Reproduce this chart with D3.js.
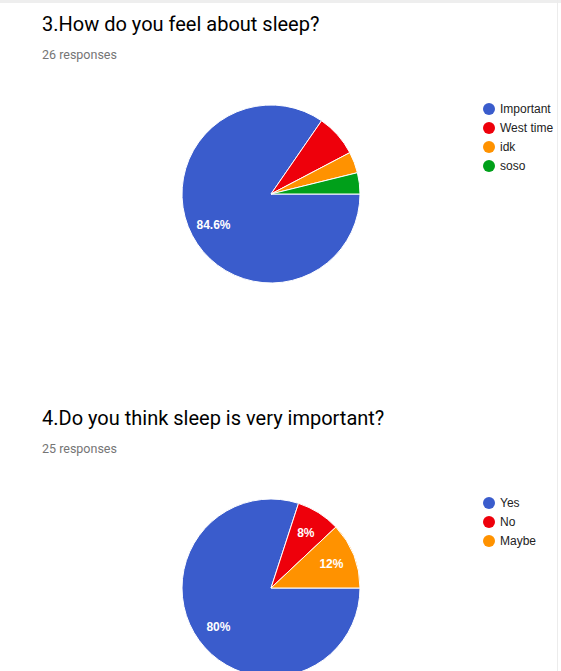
<!DOCTYPE html>
<html>
<head>
<meta charset="utf-8">
<title>Sleep survey</title>
<script src="https://d3js.org/d3.v7.min.js"></script>
<style>
  body { margin: 0; background: #fff; }
  svg { display: block; }
</style>
</head>
<body>
<svg id="chart" width="561" height="671"></svg>
<script>
var titles = ["3.How do you feel about sleep?", "4.Do you think sleep is very important?"];
var responses = ["26 responses", "25 responses"];
var labels1 = ["Important", "West time", "idk", "soso"];
var values1 = [22, 2, 1, 1];
var labels2 = ["Yes", "No", "Maybe"];
var values2 = [20, 2, 3];
var colors = ["#3a5ccc", "#ee000b", "#ff9200", "#00a01a"];

var svg = d3.select("#chart");

// top shadow + right border of the page
svg.append("rect").attr("x", 0).attr("y", 0).attr("width", 561).attr("height", 3).attr("fill", "#eeeeee");
svg.append("line").attr("x1", 557.5).attr("x2", 557.5).attr("y1", 0).attr("y2", 671)
    .attr("stroke", "#ececec");

var pie = d3.pie().sort(null).value(function(d) { return d.value; })
    .startAngle(Math.PI / 2).endAngle(Math.PI / 2 + 2 * Math.PI);
var radius = 89;
var arc = d3.arc().innerRadius(0).outerRadius(radius);
var labelArc = d3.arc().innerRadius(radius * 0.73).outerRadius(radius * 0.73);
var color = d3.scaleOrdinal().range(colors);
var pct = function(p) { return (Math.round(p * 1000) / 10) + "%"; };

function drawSection(top, title, resp, labels, values) {
  var g = svg.append("g").attr("transform", "translate(0," + top + ")");
  g.append("text").attr("x", 42).attr("y", 31)
      .attr("font-family", "Roboto").attr("font-size", 20).attr("fill", "#000")
      .text(title);
  g.append("text").attr("x", 42).attr("y", 59)
      .attr("font-family", "Roboto").attr("font-size", 12.5).attr("fill", "#757575")
      .text(resp);

  var data = labels.map(function(l, i) { return {label: l, value: values[i]}; });
  var total = d3.sum(values);
  color.domain(labels);

  var p = g.append("g").attr("transform", "translate(271,194)");
  var arcs = pie(data);
  p.selectAll("path").data(arcs).enter().append("path")
      .attr("d", arc)
      .attr("fill", function(d) { return color(d.data.label); })
      .attr("stroke", "#fff").attr("stroke-width", 1);

  p.selectAll("text").data(arcs.filter(function(d) { return d.data.value / total >= 0.08; }))
    .enter().append("text")
      .attr("transform", function(d) { return "translate(" + labelArc.centroid(d) + ")"; })
      .attr("text-anchor", "middle").attr("dy", "0.36em")
      .attr("font-family", "Liberation Sans, Arial").attr("font-size", 12)
      .attr("font-weight", "bold").attr("fill", "#fff")
      .text(function(d) { return pct(d.data.value / total); });

  var leg = g.append("g").attr("transform", "translate(489,109)");
  var item = leg.selectAll("g").data(labels).enter().append("g")
      .attr("transform", function(d, i) { return "translate(0," + (i * 19) + ")"; });
  item.append("circle").attr("r", 6).attr("fill", function(d) { return color(d); });
  item.append("text").attr("x", 11).attr("dy", "0.35em")
      .attr("font-family", "Liberation Sans, Arial").attr("font-size", 12).attr("fill", "#222")
      .text(function(d) { return d; });
}

drawSection(0, titles[0], responses[0], labels1, values1);
drawSection(394, titles[1], responses[1], labels2, values2);
</script>
</body>
</html>
